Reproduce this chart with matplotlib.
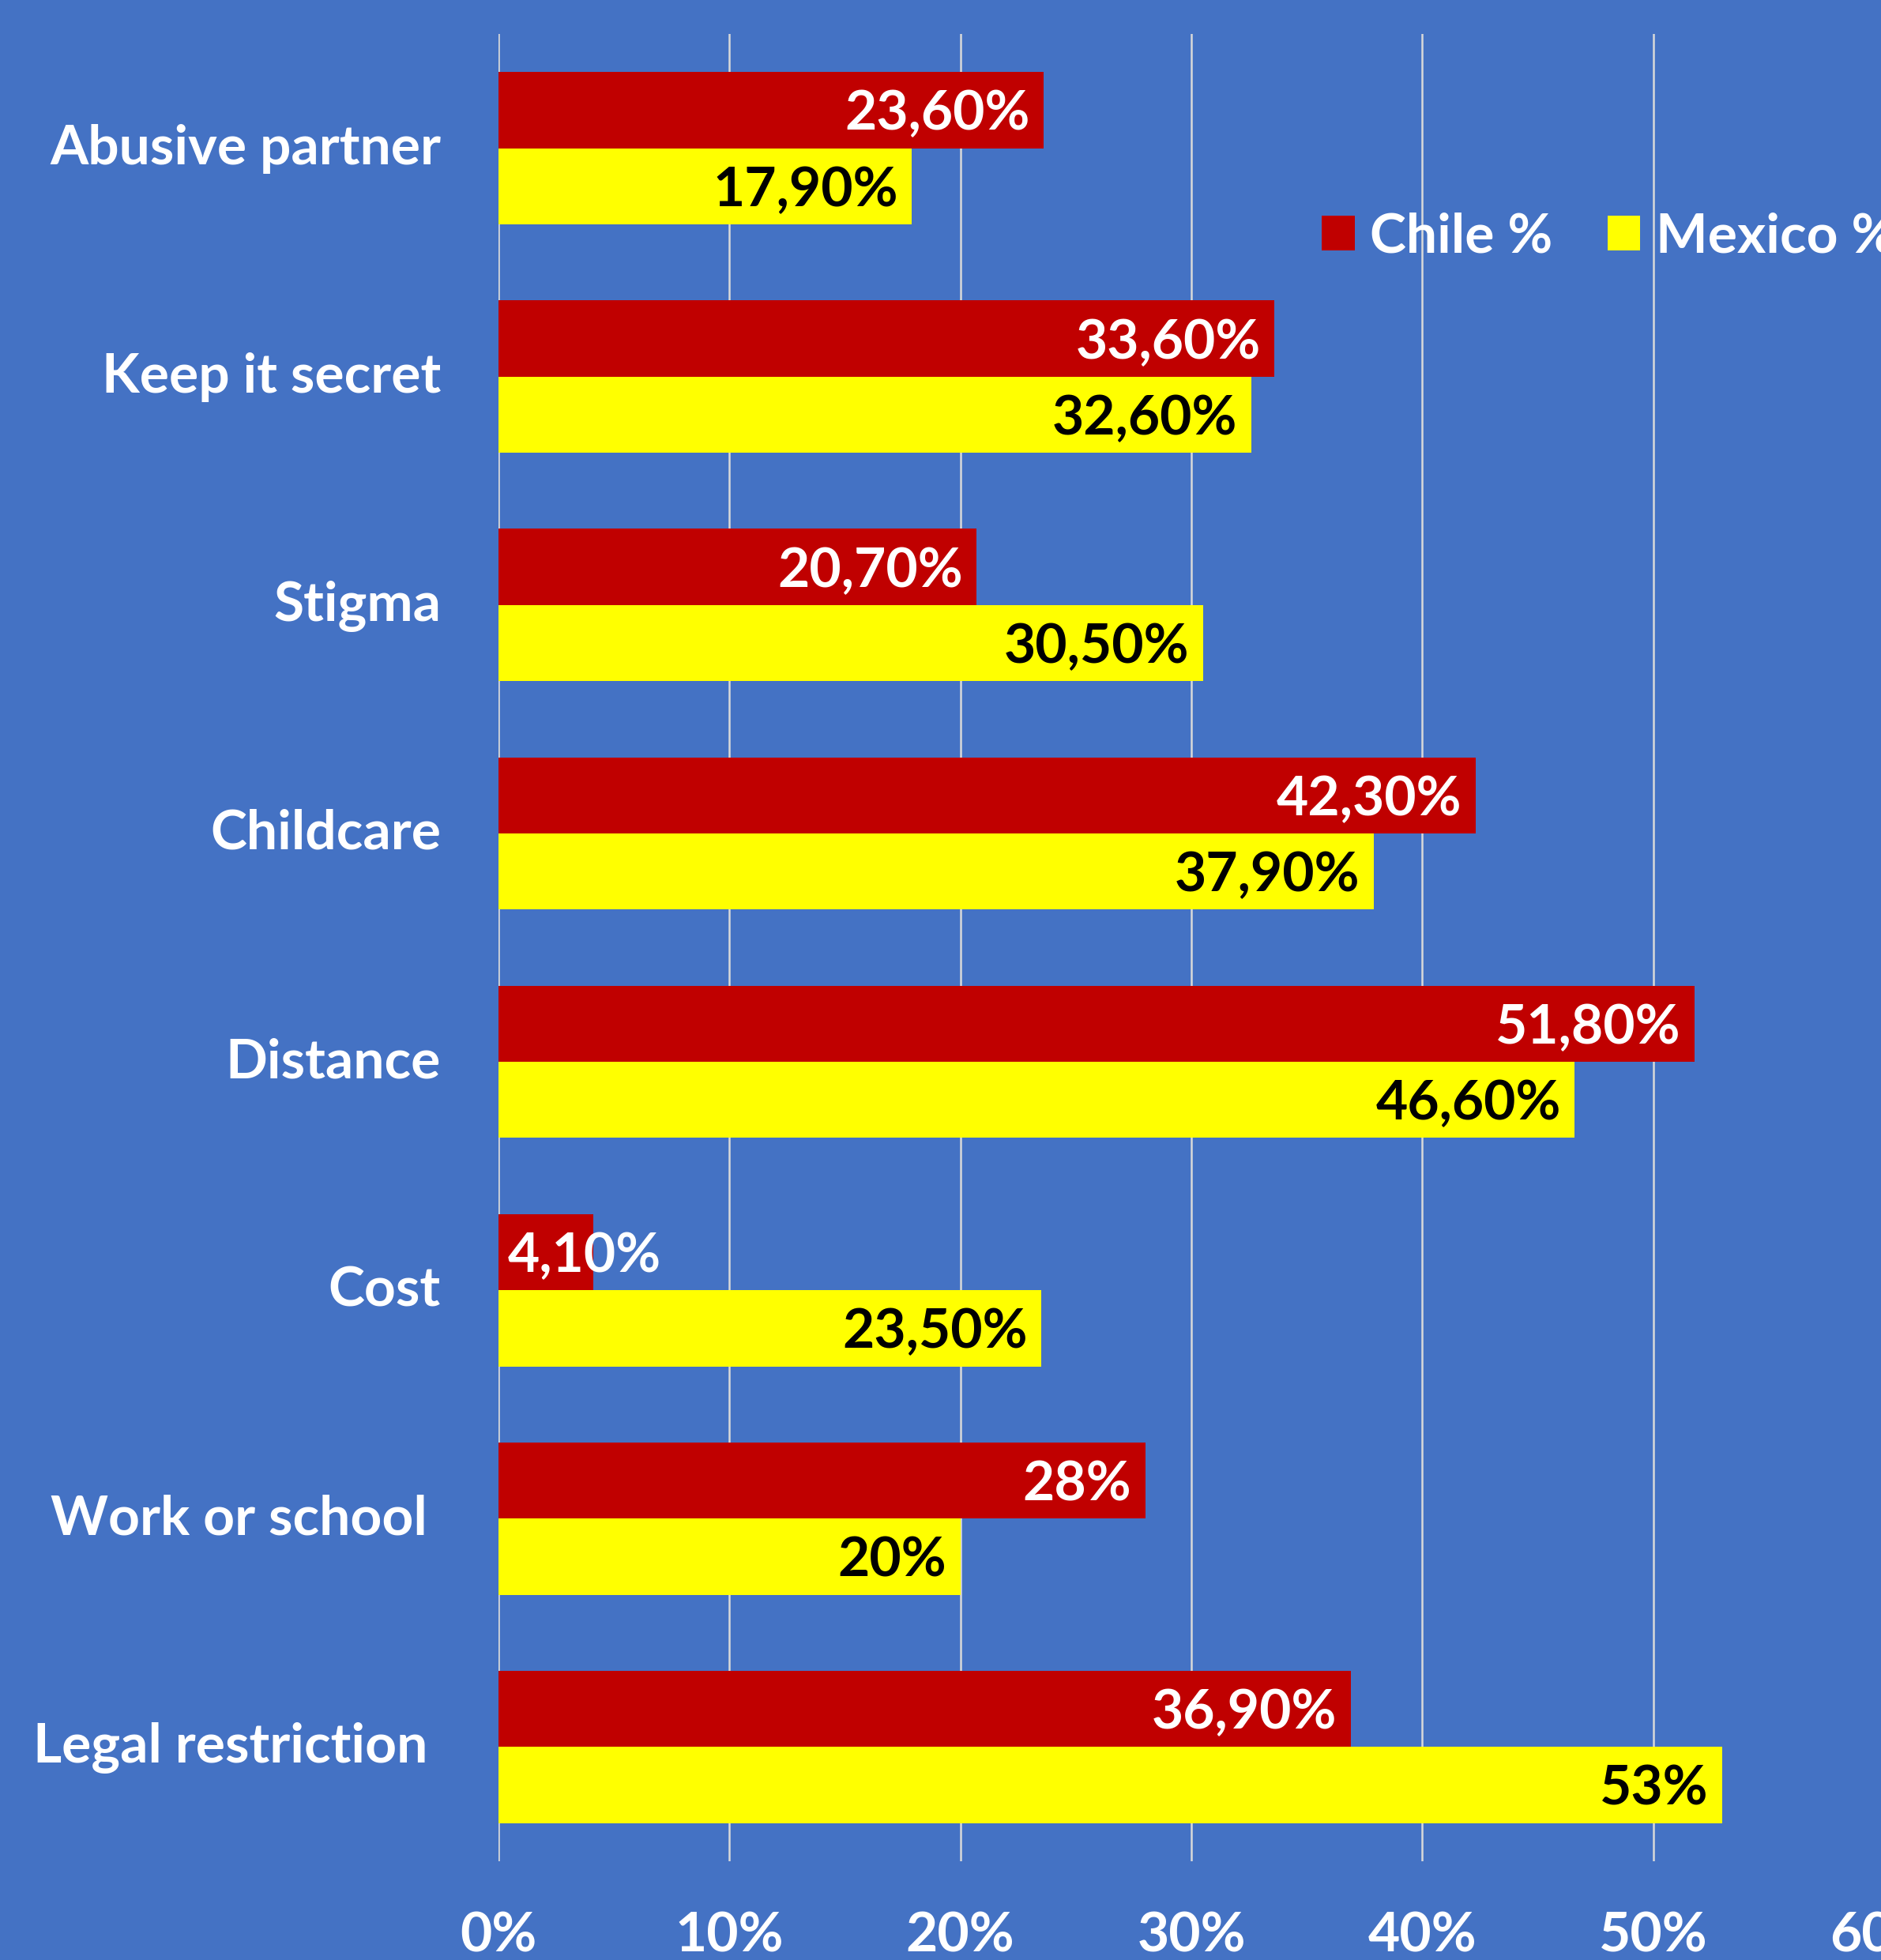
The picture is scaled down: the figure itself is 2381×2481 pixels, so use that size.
import matplotlib
matplotlib.use('Agg')
import matplotlib.pyplot as plt
from matplotlib.patches import Patch
import numpy as np

# data ------------------------------------------
categories = ['Abusive partner', 'Keep it secret', 'Stigma', 'Childcare',
              'Distance', 'Cost', 'Work or school ', 'Legal restriction ']
chile = [23.6, 33.6, 20.7, 42.3, 51.8, 4.1, 28, 36.9]
mexico = [17.9, 32.6, 30.5, 37.9, 46.6, 23.5, 20, 53]
chile_lbl = ['23,60%', '33,60%', '20,70%', '42,30%', '51,80%', '4,10%', '28%', '36,90%']
mexico_lbl = ['17,90%', '32,60%', '30,50%', '37,90%', '46,60%', '23,50%', '20%', '53%']
xticks = [0, 10, 20, 30, 40, 50, 60]

bg = '#4472C4'
red = '#C00000'
yellow = '#FFFF00'
fs = 50

plt.rcParams['font.family'] = ['Lato', 'DejaVu Sans']
plt.rcParams['font.weight'] = 'bold'

W, H = 2381, 2481
fig = plt.figure(figsize=(W/100, H/100), dpi=100, facecolor=bg)
ax = fig.add_axes([631/W, 1-2356/H, 1754/W, (2356-43)/H])
ax.set_facecolor(bg)

y = np.arange(len(categories))
bh = 1/3.
ax.barh(y - bh/2, chile, height=bh, color=red, zorder=2)
ax.barh(y + bh/2, mexico, height=bh, color=yellow, zorder=2)

pad = 0.6
off = 0.087  # baseline below bar centre
for i in range(len(categories)):
    if chile[i] < 10:
        ax.text(0.4, y[i]-bh/2+off, chile_lbl[i], ha='left', va='baseline',
                color='white', fontsize=fs, fontweight='bold', zorder=3)
    else:
        ax.text(chile[i]-pad, y[i]-bh/2+off, chile_lbl[i], ha='right', va='baseline',
                color='white', fontsize=fs, fontweight='bold', zorder=3)
    ax.text(mexico[i]-pad, y[i]+bh/2+off, mexico_lbl[i], ha='right', va='baseline',
            color='black', fontsize=fs, fontweight='bold', zorder=3)
    # category names
    ax.text(-73/1754*60, y[i]+0.069, categories[i], ha='right', va='baseline',
            color='white', fontsize=fs, fontweight='bold', clip_on=False)

ax.set_xlim(0, 60)
ax.set_ylim(len(categories)-0.5, -0.5)
ax.set_xticks(xticks)
ax.set_xticklabels([str(t)+'%' for t in xticks])
ax.set_yticks([])
ax.tick_params(axis='both', length=0, labelsize=fs, colors='white')
ax.tick_params(axis='x', pad=46)
ax.grid(axis='x', color='#D9D9D9', linewidth=1.8, zorder=1)
for s in ax.spines.values():
    s.set_visible(False)

handles = [Patch(facecolor=red), Patch(facecolor=yellow)]
fig.legend(handles, ['Chile %', 'Mexico %'], loc='center left',
           bbox_to_anchor=(1673/W, 1-300/H), ncol=2, frameon=False,
           fontsize=fs, labelcolor='white', handlelength=0.6, handleheight=0.6,
           handletextpad=0.28, columnspacing=1.0, borderpad=0, borderaxespad=0)

plt.savefig('out.png', dpi=100, facecolor=bg)
